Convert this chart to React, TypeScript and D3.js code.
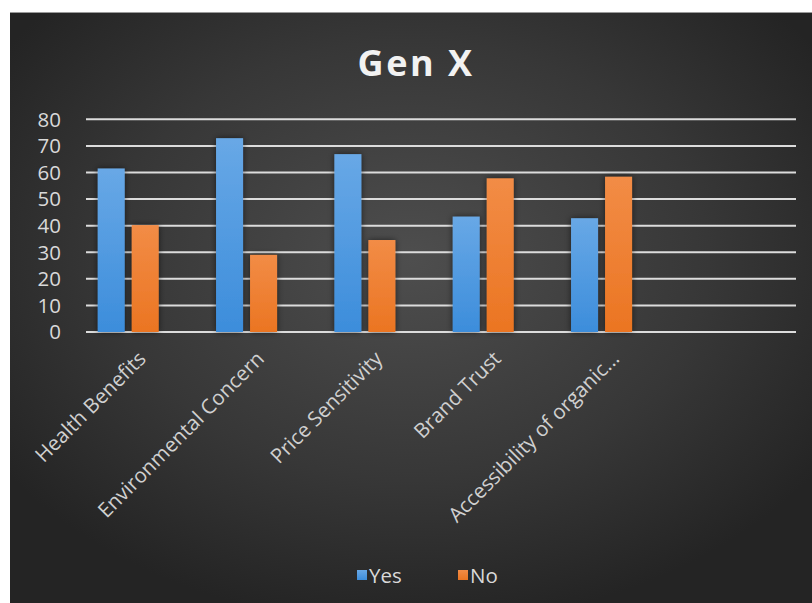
import React from "react";
import * as d3 from "d3";

const title = "Gen X";
const categories = ["Health Benefits", "Environmental Concern", "Price Sensitivity", "Brand Trust", "Accessibility of organic...", ""];
const seriesNames = ["Yes", "No"];
const seriesSlots = ["Yes", "No", "(empty)"];
const yesValues = [61.5, 72.9, 66.9, 43.4, 42.8];
const noValues = [40.2, 29.0, 34.6, 57.8, 58.4];
const yTicks = [0, 10, 20, 30, 40, 50, 60, 70, 80];

const W = 812;
const H = 603;
const FONT = "'Open Sans', 'Segoe UI', sans-serif";

export default function App() {
  const x = d3.scaleBand<string>().domain(categories.map((c, i) => String(i))).range([86, 796]);
  const inner = d3
    .scaleBand<string>()
    .domain(seriesSlots)
    .range([x.bandwidth() * 0.099, x.bandwidth() * 0.902])
    .paddingInner(0.206);
  const y = d3.scaleLinear().domain([0, 80]).range([332, 119.3]);

  const series = [
    { name: seriesNames[0], values: yesValues, fill: "url(#gBlue)" },
    { name: seriesNames[1], values: noValues, fill: "url(#gOrange)" },
  ];

  return (
    <div style={{ position: "absolute", left: 0, top: 0, width: W, height: H, background: "#fff" }}>
      <svg width={W} height={H} style={{ display: "block" }}>
        <defs>
          <radialGradient id="bg" cx="0.5" cy="0.42" r="0.62">
            <stop offset="0" stopColor="#4e4e4e" />
            <stop offset="0.6" stopColor="#373737" />
            <stop offset="1" stopColor="#242424" />
          </radialGradient>
          <linearGradient id="gBlue" x1="0" y1="0" x2="0" y2="1">
            <stop offset="0" stopColor="#68a8e6" />
            <stop offset="1" stopColor="#3c8ddb" />
          </linearGradient>
          <linearGradient id="gOrange" x1="0" y1="0" x2="0" y2="1">
            <stop offset="0" stopColor="#f28c46" />
            <stop offset="1" stopColor="#eb7522" />
          </linearGradient>
          <filter id="shadow" x="-40%" y="-20%" width="180%" height="140%">
            <feDropShadow dx="0" dy="0" stdDeviation="3" floodColor="#000" floodOpacity="0.55" />
          </filter>
        </defs>
        <rect x={0} y={0} width={W} height={H} fill="#fff" />
        <rect x={10} y={12} width={W - 10} height={H - 12} fill="url(#bg)" />
        <line x1={10} x2={W} y1={12.5} y2={12.5} stroke="#9a9a9a" strokeWidth={1} />

        <text x={416} y={76} textAnchor="middle" fill="#f2f2f2" fontFamily={FONT} fontWeight={700} fontSize={36} letterSpacing={2.5}>
          {title}
        </text>

        {yTicks.map((t) => (
          <g key={t}>
            <line x1={86} x2={796} y1={y(t)} y2={y(t)} stroke="#dcdcdc" strokeWidth={2} />
            <text x={61} y={y(t)} dy="0.36em" textAnchor="end" fill="#d9d9d9" fontFamily={FONT} fontSize={20.5}>
              {t}
            </text>
          </g>
        ))}

        {series.map((s) =>
          s.values.map((v, i) => {
            const bx = (x(String(i)) ?? 0) + (inner(s.name) ?? 0);
            return (
              <rect
                key={s.name + i}
                x={bx}
                y={y(v)}
                width={inner.bandwidth()}
                height={y(0) - y(v)}
                fill={s.fill}
                filter="url(#shadow)"
              />
            );
          })
        )}

        {categories.map((c, i) => {
          const cx = (x(String(i)) ?? 0) + x.bandwidth() / 2;
          return (
            <text
              key={"c" + i}
              transform={`translate(${cx + 2},${360}) rotate(-45)`}
              textAnchor="end"
              fill="#d0d0d0"
              fontFamily={FONT}
              fontSize={20.5}
            >
              {c}
            </text>
          );
        })}

        {series.map((s, i) => {
          const lx = i === 0 ? 357 : 458;
          return (
            <g key={"l" + s.name}>
              <rect x={lx} y={570} width={10} height={10} fill={s.fill} />
              <text x={lx + 12} y={583} fill="#d9d9d9" fontFamily={FONT} fontSize={20.5}>
                {s.name}
              </text>
            </g>
          );
        })}
      </svg>
    </div>
  );
}
